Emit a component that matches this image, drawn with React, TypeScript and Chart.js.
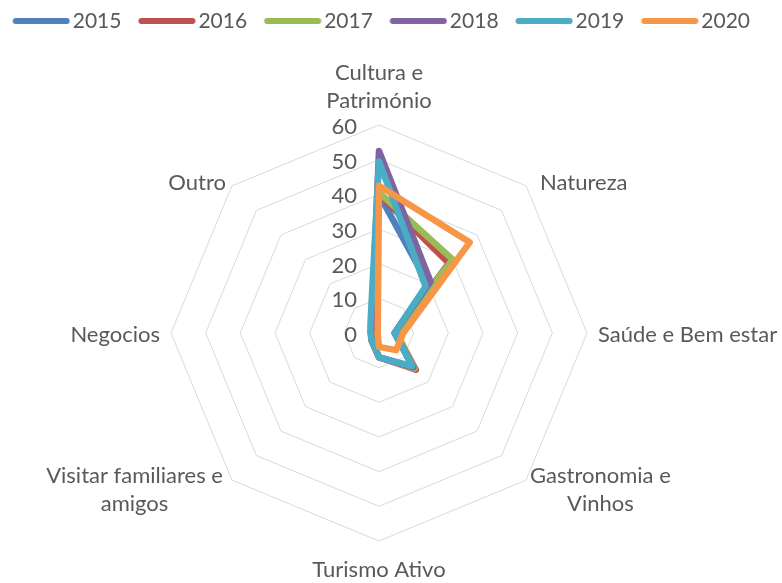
import React, { useEffect, useRef } from "react";
import { Chart, registerables } from "chart.js";

Chart.register(...registerables);

// ---- data ----
const categories: string[][] = [
  ["Cultura e", "Património"],
  ["Natureza"],
  ["Saúde e Bem estar"],
  ["Gastronomia e", "Vinhos"],
  ["Turismo Ativo"],
  ["Visitar familiares e", "amigos"],
  ["Negocios"],
  ["Outro"],
];
const years = ["2015", "2016", "2017", "2018", "2019", "2020"];
const s2015 = [40, 20, 4.5, 14, 7, 3, 2, 2.5];
const s2016 = [40, 28.5, 5, 15, 7, 3, 2, 2.5];
const s2017 = [40.5, 30, 5, 14.5, 7, 3, 2, 2.5];
const s2018 = [52.5, 21, 4.5, 14, 7, 3, 2, 3];
const s2019 = [49.5, 19, 4.5, 13.5, 7, 3, 2.5, 3.5];
const s2020 = [42.5, 37, 7, 7, 4, 0.5, 0.5, 0.5];
const seriesValues = [s2015, s2016, s2017, s2018, s2019, s2020];
const scaleMin = 0;
const scaleMax = 60;
const scaleStep = 10;

// ---- style ----
const colors = ["#4F81BD", "#C0504D", "#9BBB59", "#8064A2", "#4BACC6", "#F79646"];
const TEXT = "#595959";
const FONT = "Lato, 'Open Sans', sans-serif";
const LEGEND_SIZE = 21;
const LEGEND_PAD = 10.5;
const LEGEND_PW = 56;
const LEGEND_LINE = 57;
const LEGEND_GAP = 3;
const LINE_H = 28;

// label placement relative to the outer vertex: dx, dy, mode
const placement: [number, number, string][] = [
  [0, -24, "top"],
  [14, -3, "left"],
  [11, 2, "left"],
  [4, 10, "left"],
  [0, 29, "bottom"],
  [-9, 10, "right"],
  [-11, 2, "right"],
  [-6, -3, "right"],
];

function makeLegendImage(color: string): HTMLCanvasElement {
  const half = LEGEND_SIZE / 2;
  const rightRel = LEGEND_PW / 2 + half - LEGEND_GAP;
  const leftRel = rightRel - LEGEND_LINE;
  const hw = Math.ceil(Math.max(Math.abs(leftRel), rightRel));
  const c = document.createElement("canvas");
  c.width = hw * 2;
  c.height = 8;
  const g = c.getContext("2d")!;
  g.strokeStyle = color;
  g.lineWidth = 6;
  g.lineCap = "round";
  g.beginPath();
  g.moveTo(hw + leftRel + 3, 4);
  g.lineTo(hw + rightRel - 3, 4);
  g.stroke();
  return c;
}

const labelPlugin = {
  id: "excelLabels",
  afterDraw(chart: any) {
    const scale = chart.scales.r;
    const ctx = chart.ctx as CanvasRenderingContext2D;
    ctx.save();
    ctx.fillStyle = TEXT;
    ctx.textBaseline = "middle";
    // tick labels
    ctx.font = `22px ${FONT}`;
    ctx.textAlign = "right";
    scale.ticks.forEach((t: any) => {
      const d = scale.getDistanceFromCenterForValue(t.value);
      ctx.fillText(String(t.value), scale.xCenter - 22, scale.yCenter - d + 2);
    });
    // category labels
    ctx.font = `22px ${FONT}`;
    ctx.textAlign = "center";
    const R = scale.drawingArea;
    (chart.data.labels as any[]).forEach((lab, i) => {
      const lines: string[] = Array.isArray(lab) ? lab : [lab];
      const v = scale.getPointPosition(i, R);
      const [dx, dy, mode] = placement[i];
      const ax = v.x + dx;
      const ay = v.y + dy;
      const n = lines.length;
      const bw = Math.max(...lines.map((l) => ctx.measureText(l).width));
      lines.forEach((line, k) => {
        let cx = ax;
        let cy = ay;
        if (mode === "top") cy = ay - (n - 1 - k) * LINE_H;
        else if (mode === "bottom") cy = ay + k * LINE_H;
        else {
          cy = ay + (k - (n - 1) / 2) * LINE_H;
          cx = mode === "left" ? ax + bw / 2 : ax - bw / 2;
        }
        ctx.fillText(line, cx, cy);
      });
    });
    ctx.restore();
  },
};

export default function App() {
  const ref = useRef<HTMLCanvasElement | null>(null);
  useEffect(() => {
    if (!ref.current) return;
    const images = colors.map((c) => makeLegendImage(c));
    const chart = new Chart(ref.current, {
      type: "radar",
      data: {
        labels: categories as any,
        datasets: years.map((y, i) => ({
          label: y,
          data: seriesValues[i],
          borderColor: colors[i],
          backgroundColor: "transparent",
          borderWidth: 6.5,
          borderJoinStyle: "round",
          borderCapStyle: "round",
          fill: false,
          pointRadius: 0,
          pointHoverRadius: 0,
          tension: 0,
          clip: false as any,
          order: years.length - 1 - i,
        })),
      },
      options: {
        responsive: false,
        devicePixelRatio: 1,
        animation: false,
        layout: { padding: { left: -4.3, top: 0, right: 0, bottom: 0 } },
        plugins: {
          tooltip: { enabled: false },
          legend: {
            position: "top",
            align: "start",
            labels: {
              usePointStyle: true,
              pointStyleWidth: LEGEND_PW,
              padding: LEGEND_PAD,
              color: TEXT,
              font: { family: FONT, size: LEGEND_SIZE },
              generateLabels: (ch: any) =>
                ch.data.datasets.map((ds: any, i: number) => ({
                  text: ds.label,
                  fillStyle: ds.borderColor,
                  strokeStyle: ds.borderColor,
                  lineWidth: 0,
                  pointStyle: images[i],
                  hidden: false,
                  datasetIndex: i,
                  fontColor: TEXT,
                })),
            },
          },
        },
        scales: {
          r: {
            min: scaleMin,
            max: scaleMax,
            ticks: { stepSize: scaleStep, display: false },
            grid: { color: "#D9D9D9", lineWidth: 1 },
            angleLines: { display: false },
            pointLabels: { display: false },
            afterFit: (s: any) => {
              s.xCenter = 379;
              s.yCenter = 333;
              s.drawingArea = 208;
            },
          },
        },
      } as any,
      plugins: [labelPlugin],
    });
    return () => chart.destroy();
  }, []);
  return (
    <div style={{ position: "fixed", left: 0, top: 0, width: 782, height: 583, background: "#fff" }}>
      <canvas ref={ref} width={782} height={583} style={{ width: 782, height: 583, display: "block" }} />
    </div>
  );
}
